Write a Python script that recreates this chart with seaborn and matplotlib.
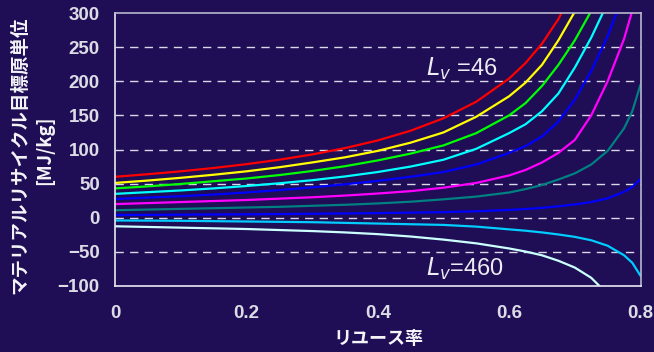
import matplotlib
matplotlib.use("Agg")
import matplotlib.pyplot as plt
import seaborn as sns
import pandas as pd

# ---- data ----
x_long = [0, 0.05, 0.1, 0.15, 0.2, 0.25, 0.3, 0.35, 0.4, 0.45, 0.5, 0.55,
          0.6, 0.625, 0.65, 0.675, 0.7, 0.725, 0.75, 0.775, 0.7875, 0.8]

red_x = x_long[:17]
red_y = [60, 63.8, 68, 72.9, 78.5, 85, 92.7, 102, 113.3, 127.5, 145.7, 170,
         204, 226.7, 255, 291, 340]

yellow_x = x_long[:18]
yellow_y = [51, 54.5, 58.5, 63, 68, 74, 81, 88.5, 98, 110, 125, 148,
            178, 198, 224, 260, 302, 360]

green_x = x_long[:19]
green_y = [43, 46, 49.5, 53.5, 57.5, 62.5, 68.5, 75.5, 84, 94, 106, 124,
           150, 168, 193, 224, 260, 303, 370]

cyan_x = x_long[:19]
cyan_y = [35, 37.5, 40, 43, 46.5, 50.5, 55, 60.5, 67, 75, 85, 101,
          124, 137, 156, 182, 220, 264, 315]

blue_x = x_long[:20]
blue_y = [27.5, 29.5, 31.5, 34, 37, 40.5, 44.5, 49, 54, 60, 67, 78,
          95, 105, 119, 141, 173, 215, 266, 330]

magenta_x = x_long[:20] + [0.8]
magenta_y = [20, 21.5, 23, 24.5, 26, 28, 30, 32.5, 35.5, 39, 44, 51,
             62, 70, 81, 95, 114, 150, 200, 262, 345]

teal_x = x_long
teal_y = [11, 12, 13, 14, 15, 16, 17.5, 19, 21, 23.5, 27, 31,
          37, 42, 48, 56, 65, 78, 98, 131, 156, 195]

blue2_x = x_long
blue2_y = [4, 4.2, 4.5, 4.8, 5, 5.4, 5.8, 6.3, 6.8, 7.5, 8.2, 9.5,
           11.5, 12.8, 14.5, 16.8, 19.5, 23, 28.5, 38, 45, 57]

sky_x = x_long
sky_y = [-4, -4.2, -4.5, -5, -5.5, -6, -6.5, -7.5, -8.5, -9.5, -10.5, -13,
         -17, -19, -21.5, -24.5, -28, -33, -41, -55, -66, -85]

pale_x = x_long[:19]
pale_y = [-12.5, -13.5, -14.5, -15.5, -16.5, -18, -19.5, -21.5, -24, -27.5,
          -32, -37.5, -45, -49.5, -55, -63, -73, -88, -112]

series = [
    ("Lv1", red_x, red_y, "#ff0000"),
    ("Lv2", yellow_x, yellow_y, "#ffff00"),
    ("Lv3", green_x, green_y, "#00ff00"),
    ("Lv4", cyan_x, cyan_y, "#00ffff"),
    ("Lv5", blue_x, blue_y, "#0000ff"),
    ("Lv6", magenta_x, magenta_y, "#ff00ff"),
    ("Lv7", teal_x, teal_y, "#008080"),
    ("Lv8", blue2_x, blue2_y, "#0000ff"),
    ("Lv9", sky_x, sky_y, "#00ccff"),
    ("Lv10", pale_x, pale_y, "#ccffff"),
]

x_ticks = [0, 0.2, 0.4, 0.6, 0.8]
x_tick_labels = ["0", "0.2", "0.4", "0.6", "0.8"]
y_ticks = [-100, -50, 0, 50, 100, 150, 200, 250, 300]

rows = []
for name, xs, ys, _ in series:
    for xv, yv in zip(xs, ys):
        rows.append({"series": name, "r": xv, "v": yv})
df = pd.DataFrame(rows)
palette = {name: col for name, _, _, col in series}

BG = "#1f0d55"
sns.set_style("white", {"axes.facecolor": BG, "figure.facecolor": BG})
plt.rcParams["font.family"] = ["Liberation Sans", "DejaVu Sans"]

W, H = 654, 352
fig = plt.figure(figsize=(W / 100, H / 100), dpi=100)
fig.patch.set_facecolor(BG)
ax = fig.add_axes([115 / W, 1 - 286 / H, (640.5 - 115) / W, (286 - 13) / H])
ax.set_facecolor(BG)

sns.lineplot(data=df, x="r", y="v", hue="series", palette=palette,
             sort=False, estimator=None, legend=False, linewidth=1.6, ax=ax)

ax.set_xlim(0, 0.8)
ax.set_ylim(-100, 300)
ax.set_xticks(x_ticks)
ax.set_xticklabels(x_tick_labels)
ax.set_yticks(y_ticks)
ax.set_xlabel("")
ax.set_ylabel("")

for yv in y_ticks[1:-1]:
    ax.axhline(yv, color="#d8d8e8", lw=1.0, ls=(0, (6, 4.5)), zorder=0.5)

for s in ["left", "bottom"]:
    ax.spines[s].set_color("#e8e8f0")
    ax.spines[s].set_linewidth(1.2)
for s in ["top", "right"]:
    ax.spines[s].set_color("#b8b8cc")
    ax.spines[s].set_linewidth(1.2)

ax.tick_params(axis="x", direction="in", length=4.5, width=1, color="#d0d0e0",
               pad=14, labelsize=13.5, labelcolor="#dcdce6")
ax.tick_params(axis="y", length=0, pad=11, labelsize=13.5, labelcolor="#dcdce6")
for lab in ax.get_xticklabels() + ax.get_yticklabels():
    lab.set_fontweight("bold")

ax.text(0.473, 218, r"$L_{v}$ =46", color="#ececf4", fontsize=17,
        ha="left", va="center", family=["Liberation Sans", "DejaVu Sans"])
ax.text(0.473, -75, r"$L_{v}$=460", color="#ececf4", fontsize=17,
        ha="left", va="center", family=["Liberation Sans", "DejaVu Sans"])

cjk = ["Noto Sans CJK JP", "DejaVu Sans"]
fig.text(20 / W, 1 - 155 / H, "マテリアルリサイクル目標原単位", rotation=90,
         ha="center", va="center", color="#f4f4f8", fontsize=13.3,
         fontweight="bold", family=cjk)
fig.text(45 / W, 1 - 150 / H, "[MJ/kg]", rotation=90,
         ha="center", va="center", color="#f4f4f8", fontsize=13.3,
         fontweight="bold", family=cjk)
fig.text(378 / W, 1 - 338 / H, "リユース率", ha="center", va="center",
         color="#f4f4f8", fontsize=13, fontweight="bold", family=cjk)

fig.savefig("out.png", dpi=100, facecolor=BG)
